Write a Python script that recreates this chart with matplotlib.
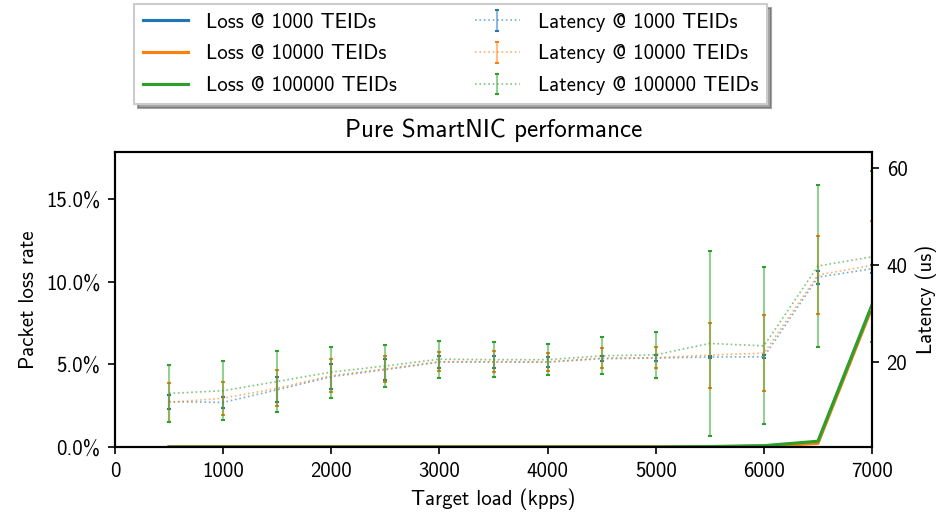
import matplotlib
matplotlib.use("Agg")
import matplotlib.pyplot as plt
from matplotlib.ticker import PercentFormatter

plt.rcParams['font.family'] = ['cmss10', 'DejaVu Sans']
plt.rcParams['font.size'] = 10
plt.rcParams['axes.unicode_minus'] = False

loads = [500, 1000, 1500, 2000, 2500, 3000, 3500, 4000, 4500, 5000, 5500, 6000, 6500, 7000]
teids = [1000, 10000, 100000]

# packet loss rate (%)
loss_1k = [0, 0, 0, 0, 0, 0, 0, 0, 0, 0, 0.01, 0.05, 0.30, 8.55]
loss_10k = [0, 0, 0, 0, 0, 0, 0, 0, 0, 0, 0.01, 0.04, 0.22, 8.45]
loss_100k = [0, 0, 0, 0, 0, 0, 0, 0, 0, 0, 0.03, 0.08, 0.35, 8.6]

# latency mean and spread (us)
lat_1k = [11.85, 11.7, 14.3, 17.0, 18.45, 20.0, 20.0, 20.0, 20.7, 20.85, 21.05, 21.1, 37.5, 39.25]
err_1k = [1.45, 1.07, 2.6, 2.6, 2.2, 1.2, 1.2, 1.0, 0.55, 0.55, 0.25, 0.3, 1.3, 0.85]
lat_10k = [11.7, 12.55, 14.6, 17.2, 18.6, 20.1, 20.1, 20.05, 20.85, 20.9, 21.45, 21.85, 37.95, 39.95]
err_10k = [4.0, 3.45, 3.7, 3.4, 2.6, 2.0, 2.1, 1.85, 2.15, 2.2, 6.7, 7.85, 8.0, 9.2]
lat_100k = [13.55, 14.1, 16.0, 17.95, 19.2, 20.6, 20.5, 20.5, 21.3, 21.5, 23.85, 23.35, 39.8, 41.7]
err_100k = [5.85, 6.1, 6.2, 5.25, 4.4, 3.85, 3.6, 3.2, 3.8, 4.7, 19.0, 16.15, 16.75, 17.6]

colors = ['#1f77b4', '#ff7f0e', '#2ca02c']

fig, ax = plt.subplots(figsize=(6.3, 3.44), dpi=150)
fig.subplots_adjust(left=0.1217, right=0.9228, bottom=0.1337, top=0.7054)
ax2 = ax.twinx()

for v, t, c in zip([loss_1k, loss_10k, loss_100k], teids, colors):
    ax.plot(loads, v, color=c, lw=1.5, label=f'Loss @ {t} TEIDs')

for m, e, t, c in zip([lat_1k, lat_10k, lat_100k], [err_1k, err_10k, err_100k], teids, colors):
    line, caps, bars = ax2.errorbar(loads, m, yerr=e, color=c, ls=':', lw=0.8,
                                    elinewidth=1.0, capsize=1.0, capthick=1.0,
                                    label=f'Latency @ {t} TEIDs')
    line.set_alpha(0.6)
    for b in bars:
        b.set_alpha(0.5)

for sp in list(ax.spines.values()) + list(ax2.spines.values()):
    sp.set_linewidth(1.0)

ax.set_xlim(0, 7000)
ax.set_ylim(0, 17.85)
ax.set_yticks([0, 5, 10, 15])
ax.yaxis.set_major_formatter(PercentFormatter(xmax=100, decimals=1))
ax2.set_ylim(2.5, 63.3)
ax2.set_yticks([20, 40, 60])

ax.set_xlabel('Target load (kpps)')
ax.set_ylabel('Packet loss rate')
ax2.set_ylabel('Latency (us)')
ax.set_title('Pure SmartNIC performance', pad=7)

h1, l1 = ax.get_legend_handles_labels()
h2, l2 = ax2.get_legend_handles_labels()
fig.legend(h1 + h2, l1 + l2, loc='upper left', bbox_to_anchor=(0.1376, 1.0),
           ncol=2, shadow=True, fancybox=False, columnspacing=3.75,
           handlelength=2.16, handletextpad=0.87, labelspacing=0.62,
           borderaxespad=0.2)

fig.savefig('out.png', dpi=150)
